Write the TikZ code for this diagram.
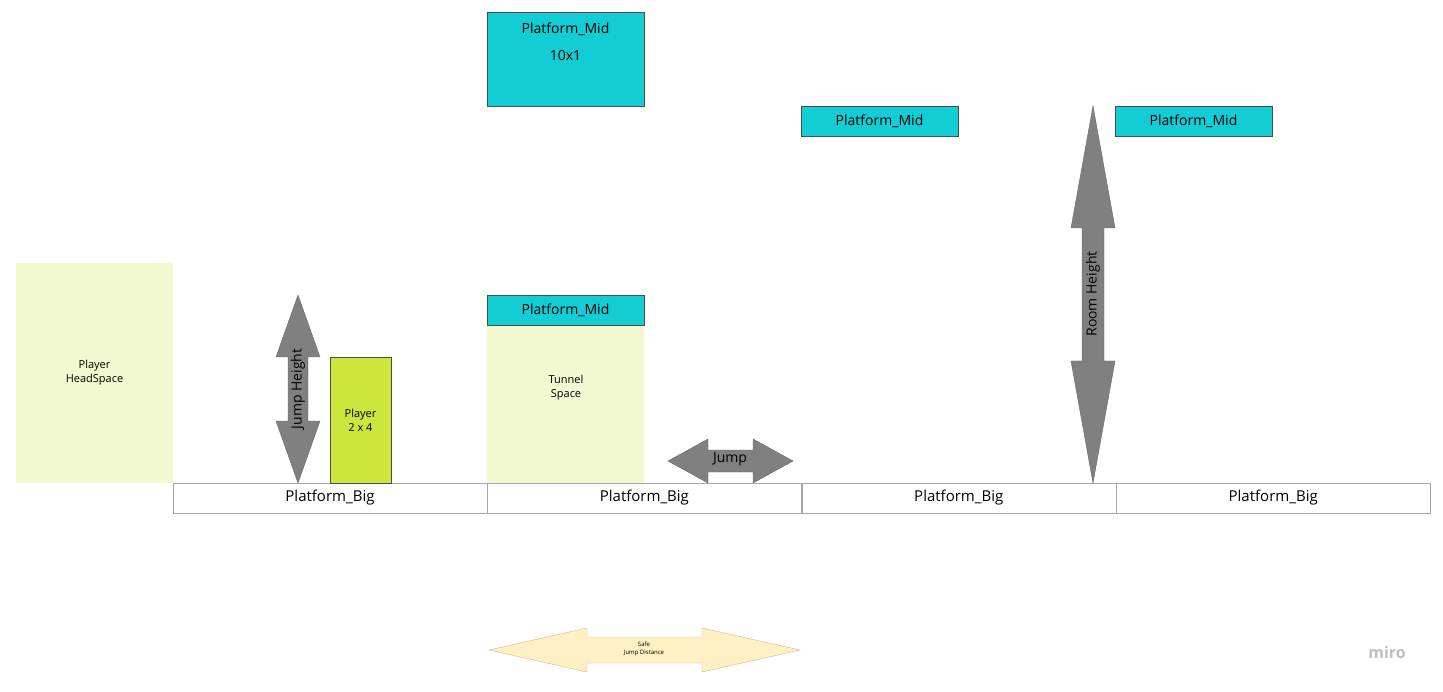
\documentclass[tikz,border=0pt]{standalone}
\usepackage{fontspec}
\setmainfont{Open Sans}
\usetikzlibrary{positioning}
\definecolor{midcyan}{RGB}{18,205,212}
\definecolor{spacegreen}{RGB}{242,249,208}
\definecolor{playergreen}{RGB}{206,229,61}
\definecolor{arrowgray}{RGB}{128,128,128}
\definecolor{safefill}{RGB}{254,240,194}
\tikzset{
  bigbox/.style={draw=gray!70,fill=white,minimum width=314,minimum height=30,font=\fontsize{15}{18}\selectfont,inner sep=0},
  midbox/.style={draw=black!70,fill=midcyan,minimum width=157,minimum height=30,font=\fontsize{14}{17}\selectfont,inner sep=0},
  spacebox/.style={fill=spacegreen,align=center,font=\fontsize{11}{14}\selectfont,inner sep=0},
  arrowshape/.style={draw=black!60,fill=arrowgray}
}
% cx, top y, bottom y, half width, shaft half, head length
\newcommand{\vdbl}[6]{\filldraw[arrowshape] (#1,#2) -- (#1+#4,#2+#6) -- (#1+#5,#2+#6) -- (#1+#5,#3-#6) -- (#1+#4,#3-#6) -- (#1,#3) -- (#1-#4,#3-#6) -- (#1-#5,#3-#6) -- (#1-#5,#2+#6) -- (#1-#4,#2+#6) -- cycle;}
\newcommand{\hdbl}[7]{\filldraw[#7] (#1,#3) -- (#1+#6,#3-#4) -- (#1+#6,#3-#5) -- (#2-#6,#3-#5) -- (#2-#6,#3-#4) -- (#2,#3) -- (#2-#6,#3+#4) -- (#2-#6,#3+#5) -- (#1+#6,#3+#5) -- (#1+#6,#3+#4) -- cycle;}
\begin{document}
\begin{tikzpicture}[x=1pt,y=1pt,yscale=-1]
\useasboundingbox (0,0) rectangle (1443,692);

% spaces
\node[spacebox,minimum width=157,minimum height=220] (headspace) at (94.5,373) {Player\\HeadSpace};
\node[spacebox,minimum width=157,minimum height=158] (tunnel) at (565.5,404) {};
\node[align=center,font=\fontsize{11}{14}\selectfont] (tunneltxt) at (566,388) {Tunnel\\Space};

% ground
\node[bigbox] (big1) at (330,498) {Platform\_Big};
\node[bigbox,right=0pt of big1] (big2) {Platform\_Big};
\node[bigbox,right=0pt of big2] (big3) {Platform\_Big};
\node[bigbox,right=0pt of big3] (big4) {Platform\_Big};

% mid platforms
\node[midbox,minimum height=94,anchor=north,align=center,text depth=60] (midtop) at (565.5,12) {};
\node[font=\fontsize{14}{17}\selectfont,align=center,anchor=north] (midtoptxt) at (565.5,19) {Platform\_Mid\\[10pt]10x1};
\node[midbox] (midtunnel) at (565.5,310) {Platform\_Mid};
\node[midbox] (midright) at (879.5,121) {Platform\_Mid};
\node[midbox] (midfar) at (1193.5,121) {Platform\_Mid};

% player
\node[draw=black!70,fill=playergreen,minimum width=61,minimum height=126,inner sep=0,align=center,font=\fontsize{11}{14}\selectfont] (player) at (360.5,420) {Player\\2 x 4};

% arrows
\vdbl{298}{295}{483}{22}{10}{62}
\node[rotate=90,font=\fontsize{14}{17}\selectfont] (jumpheight) at (298,389) {Jump Height};
\vdbl{1093}{106}{483}{22}{11}{122}
\node[rotate=90,font=\fontsize{14}{17}\selectfont] (roomheight) at (1093,294) {Room Height};
\hdbl{668}{793}{461}{22}{11}{40}{arrowshape}
\node[font=\fontsize{14}{17}\selectfont] (jump) at (730,459) {Jump};
\hdbl{489}{800}{650}{22}{13}{98}{draw=brown!60,fill=safefill}
\node[align=center,font=\fontsize{6}{8}\selectfont] (safe) at (644,649) {Safe\\Jump Distance};

\node[text=gray!50,font=\fontsize{16}{19}\selectfont\bfseries] (miro) at (1387,652) {miro};
\end{tikzpicture}
\end{document}
